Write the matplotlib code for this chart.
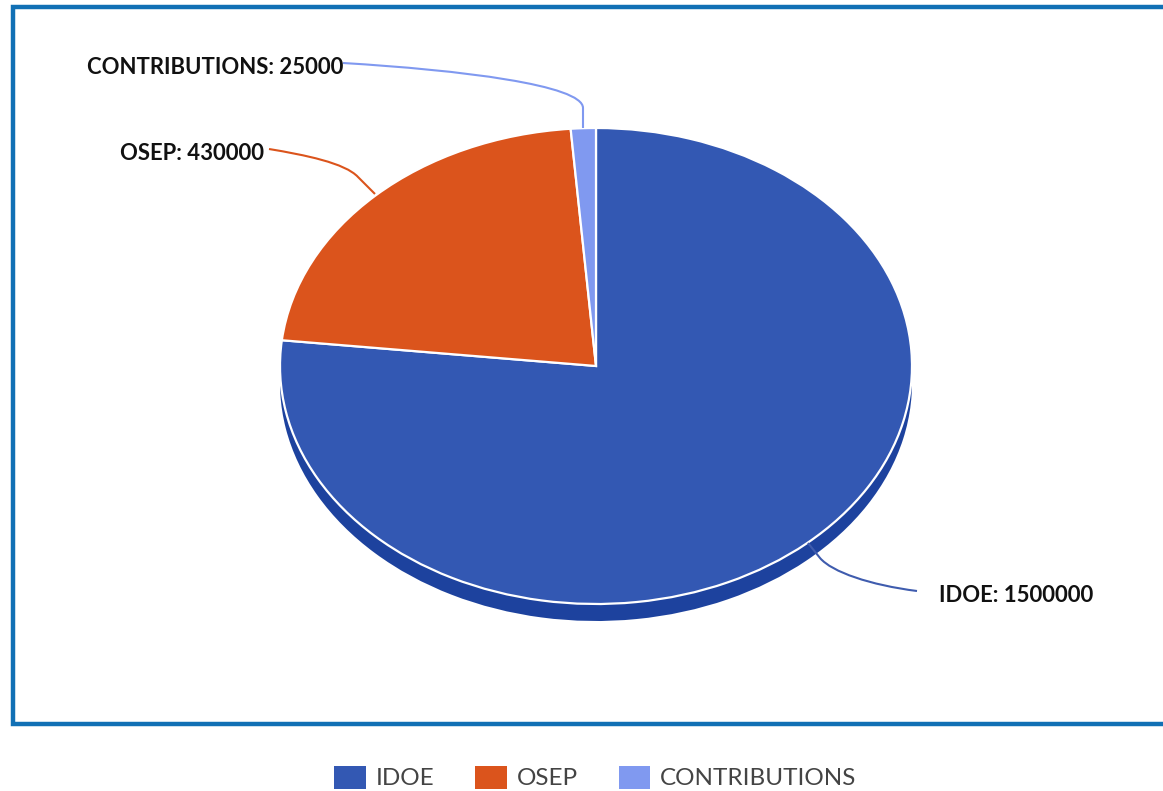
import matplotlib.pyplot as plt
from matplotlib.patches import Patch, PathPatch
from matplotlib.path import Path

# Funding sources
categories = ["IDOE", "OSEP", "CONTRIBUTIONS"]
values = [1500000, 430000, 25000]
colors = ["#3358B3", "#DB541C", "#8099F0"]
side_color = "#1D429E"

W = 1163
H = 791

plt.rcParams["font.family"] = ["Lato", "DejaVu Sans"]

fig = plt.figure(figsize=(W / 100, H / 100), dpi=100, facecolor="white")

# Overlay in pixel coordinates, for the frame and the labels
over = fig.add_axes([0, 0, 1, 1], zorder=3)
over.set_xlim(0, W)
over.set_ylim(H, 0)
over.axis("off")

# Pie ellipse, squashed to look tilted
cx, cy, rx, ry = 596, 366, 316, 238
depth = 17
ax = fig.add_axes([(cx - rx) / W, 1 - (cy + ry) / H, 2 * rx / W, 2 * ry / H], zorder=2)

# Side wall is the same pie in a darker colour, moved down
ax.pie(values, colors=[side_color] * 3, startangle=90, counterclock=False, radius=1,
       center=(0, -depth / ry), wedgeprops={"linewidth": 0, "clip_on": False})
ax.pie(values, colors=colors, startangle=90, counterclock=False, radius=1,
       wedgeprops={"edgecolor": "white", "linewidth": 1.6, "clip_on": False})
ax.set_aspect("auto")
ax.set_xlim(-1, 1)
ax.set_ylim(-1, 1)

# Frame, open on the right side
over.plot([W, 12.5, 12.5, W], [7, 7, 723.5, 723.5], color="#1170B5", linewidth=3.2,
          solid_joinstyle="miter", clip_on=False)

# Leader lines
def leader(points, color):
    codes = [Path.MOVETO, Path.CURVE4, Path.CURVE4, Path.CURVE4, Path.LINETO]
    over.add_patch(PathPatch(Path(points, codes), fill=False, edgecolor=color, linewidth=1.5))

leader([(343, 63), (460, 70), (583, 85), (583, 108), (583, 128)], "#8099F0")
leader([(269, 149), (305, 155), (345, 163), (358, 177), (375, 194)], "#DB541C")
leader([(917, 591), (870, 585), (832, 572), (820, 558), (808, 543)], "#3F5CAE")

# Data labels
labels = [f"{c}: {v}" for c, v in zip(categories, values)]
label_pos = [(1093, 595), (264, 154), (343, 67)]
for i, txt in enumerate(labels):
    over.text(label_pos[i][0], label_pos[i][1], txt, ha="right", va="center",
              fontsize=15.9, fontweight="bold", color="#111111")

# Legend
handles = [Patch(facecolor=c, edgecolor="none") for c in colors]
fig.legend(handles, categories, ncol=3, loc="center", bbox_to_anchor=(595.5 / W, 1 - 777.5 / H),
           frameon=False, fontsize=17.5, labelcolor="#444444", handlelength=1.3, handleheight=1.1,
           handletextpad=0.41, columnspacing=1.68, borderpad=0, borderaxespad=0)

fig.savefig("out.png", dpi=100)
